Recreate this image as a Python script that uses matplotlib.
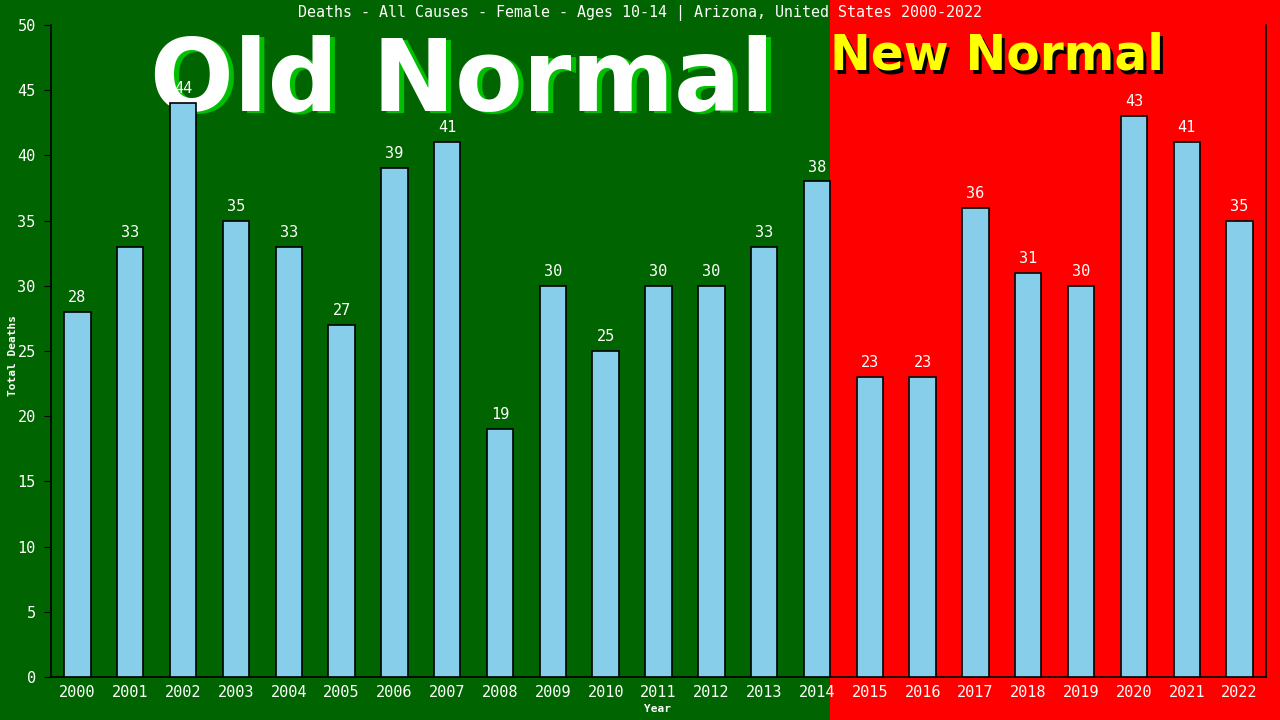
import matplotlib
matplotlib.use("Agg")
import matplotlib.pyplot as plt
from matplotlib.patches import Rectangle
import matplotlib.transforms as mtransforms

years = [str(y) for y in range(2000, 2023)]
deaths = [28, 33, 44, 35, 33, 27, 39, 41, 19, 30, 25, 30, 30, 33, 38,
          23, 23, 36, 31, 30, 43, 41, 35]
yticks = [0, 5, 10, 15, 20, 25, 30, 35, 40, 45, 50]
title = "Deaths - All Causes - Female - Ages 10-14 | Arizona, United States 2000-2022"

GREEN = "#006400"
RED = "#FF0000"
BAR = "#87CEEB"
MONO = "DejaVu Sans Mono"
BIG = "DejaVu Sans"

fig = plt.figure(figsize=(12.8, 7.2), dpi=100, facecolor=GREEN)
ax = fig.add_axes([51/1280, 43/720, 1215/1280, 652/720])
ax.set_facecolor("none")

x = list(range(len(years)))
ax.bar(x, deaths, width=0.5, color=BAR, edgecolor="black", linewidth=1.2, zorder=3)
ax.set_xlim(-0.5, len(years) - 0.5)
ax.set_ylim(0, 50)
ax.set_yticks(yticks)
ax.set_yticklabels([str(t) for t in yticks], color="white", fontsize=11, family=MONO)
ax.set_xticks(x)
ax.set_xticklabels(years, color="white", fontsize=11, family=MONO)
ax.tick_params(axis="y", direction="out", length=5, color="black", pad=6)
ax.tick_params(axis="x", length=0, pad=6)
for s in ["left", "bottom", "right"]:
    ax.spines[s].set_color("black")
    ax.spines[s].set_linewidth(1.2)
ax.spines["top"].set_visible(False)

for xi, v in zip(x, deaths):
    ax.annotate(str(v), (xi, v), xytext=(0, 5), textcoords="offset points",
                ha="center", va="bottom", color="white", fontsize=11, family=MONO, zorder=5)

# red "new normal" region in figure
trans = mtransforms.blended_transform_factory(ax.transData, fig.transFigure)
rect = Rectangle((14.25, 0), 20, 1, transform=trans, facecolor=RED, edgecolor="none", zorder=-10)
fig.add_artist(rect)

fig.text(0.5, 1 - 13/720, title, ha="center", va="center", color="white", fontsize=10.8, family=MONO)
fig.text(13/1280, 365/720, "Total Deaths", rotation=90, ha="center", va="center",
         color="white", fontsize=8, family=MONO, fontweight="bold")
fig.text(657/1280, 1 - 709/720, "Year", ha="center", va="center", color="white",
         fontsize=8, family=MONO, fontweight="bold")

# big labels (behind the bars)
ox, oy = 150/1280, 1 - 110/720
fig.text(ox + 5/1280, oy - 3/720, "Old Normal", ha="left", va="baseline", color="#00C000",
         fontsize=71, fontweight="bold", family=BIG, zorder=-6)
fig.text(ox, oy, "Old Normal", ha="left", va="baseline", color="white",
         fontsize=71, fontweight="bold", family=BIG, zorder=-5)
nx, ny = 830/1280, 1 - 70/720
fig.text(nx + 3/1280, ny - 3/720, "New Normal", ha="left", va="baseline", color="black",
         fontsize=35, fontweight="bold", family=BIG, zorder=-6)
fig.text(nx, ny, "New Normal", ha="left", va="baseline", color="#FFFF00",
         fontsize=35, fontweight="bold", family=BIG, zorder=-5)

fig.savefig("out.png", dpi=100, facecolor=GREEN)
